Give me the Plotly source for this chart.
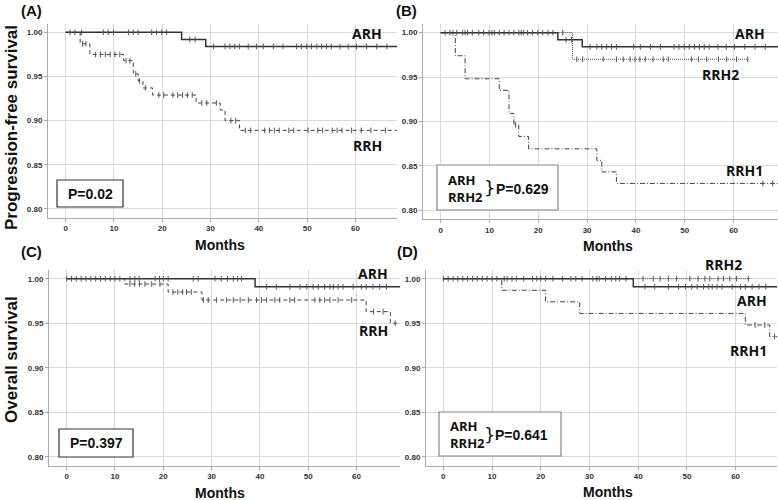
import plotly.graph_objects as go

W, H = 778, 500

# ---------------- data ----------------
# Panel A (PFS, ARH vs RRH)
A_ARH_times = [0, 24, 29]
A_ARH_surv = [1.0, 0.992, 0.984]
A_ARH_end = 68.6
A_ARH_cens = [0.9, 1.9, 3.3, 7.8, 8.8, 9.9, 13, 14, 15, 17.8, 18.8, 19.9, 20.9, 25.7, 26.8,
              30.6, 33, 34, 35, 36, 37.8, 39.5, 40.9, 43, 45, 47.8, 48.8, 49.9, 50.9, 52, 53,
              54, 55, 56.8, 58.5, 60.2, 62.3, 64.4, 66.5]
A_RRH_times = [0, 3, 5, 12, 14, 15, 16, 18, 27, 32, 33, 36]
A_RRH_surv = [1.0, 0.987, 0.975, 0.968, 0.953, 0.945, 0.937, 0.929, 0.920, 0.912, 0.900, 0.889]
A_RRH_end = 68.6
A_RRH_cens = [3.5, 4.2, 6.2, 7.2, 8.2, 9.2, 10.2, 11.2, 12.5, 13.3, 14.5, 15.3, 16.5, 19.3,
              20.3, 22.2, 23.2, 24.2, 25.2, 26.2, 28.2, 29.2, 31.2, 34.2, 35.2, 37.2, 38.3,
              41.2, 42.2, 43.2, 44.2, 46.2, 47.2, 50.2, 52.2, 53.2, 55.2, 56.2, 57.2, 59.2,
              61.2, 63.2, 66.2]

# Panel B (PFS, ARH vs RRH1 vs RRH2)
B_ARH_times = [0, 24, 29]
B_ARH_surv = [1.0, 0.992, 0.984]
B_ARH_end = 69.1
B_ARH_cens = [0.9, 1.9, 3.3, 4.5, 5.5, 6.5, 7.8, 8.8, 9.9, 11, 12, 13, 14, 15, 16, 17, 17.8,
              18.8, 19.9, 20.9, 22, 25.7, 26.8, 30.6, 32, 33, 34, 35, 36, 39.5, 40.9, 43, 45,
              47.8, 48.8, 49.9, 50.9, 52, 53, 54, 55, 56.8, 58.5, 60.2, 62.3, 64.4, 66.5]
B_RRH2_times = [0, 27]
B_RRH2_surv = [1.0, 0.970]
B_RRH2_end = 63
B_RRH2_cens = [2.5, 5, 10.5, 16.5, 23, 25, 27.9, 29.1, 33.3, 36, 37.4, 38.8, 39.8, 40.8, 41.9,
               43.5, 45.6, 46.6, 51.4, 52.8, 54.5, 56.9, 58.6, 60.6, 62.9]
B_RRH1_times = [0, 3, 5, 12, 14, 15, 16, 18, 32, 33, 36]
B_RRH1_surv = [1.0, 0.974, 0.948, 0.935, 0.909, 0.896, 0.883, 0.869, 0.856, 0.843, 0.830]
B_RRH1_end = 69.1
B_RRH1_cens = [15.3, 66, 68]

# Panel C (OS, ARH vs RRH)
C_ARH_times = [0, 39]
C_ARH_surv = [1.0, 0.991]
C_ARH_end = 69.0
C_ARH_cens = [0, 1, 2, 3, 4, 5, 6, 7, 8, 9, 10, 11, 13.1, 14.1, 15, 18.3, 19.2, 20, 21, 26.2,
              27.2, 30.7, 32, 33.3, 34.5, 35.4, 36.2, 41.4, 43.4, 46.2, 48.3, 49.7, 51, 52.1,
              53.4, 54.5, 55.2, 56.2, 57.2, 59.3, 61, 62, 63.4, 64.8, 66.2]
C_RRH_times = [0, 12, 21, 28, 62, 67]
C_RRH_surv = [1.0, 0.994, 0.985, 0.976, 0.963, 0.950]
C_RRH_end = 69.0
C_RRH_cens = [13.1, 14.1, 15.1, 16.2, 17.6, 19.3, 22, 23, 24, 24.8, 25.8, 28.3, 29.3, 31,
              33.1, 34.5, 35.9, 37.6, 39.3, 40.3, 41.4, 43.1, 44.1, 46.2, 47.2, 51.4, 52.4,
              53.4, 54.5, 56.2, 59, 63.5, 65.5, 68]

# Panel D (OS, ARH vs RRH1 vs RRH2)
D_ARH_times = [0, 39]
D_ARH_surv = [1.0, 0.991]
D_ARH_end = 68.5
D_ARH_cens = C_ARH_cens
D_RRH2_times = [0]
D_RRH2_surv = [1.0]
D_RRH2_end = 63
D_RRH2_cens = [12.5, 16.5, 22.5, 24.5, 28.5, 31.5, 37.5, 41, 43.1, 44.5, 46.2, 47.9, 50.6,
               52.3, 53.7, 54.7, 56.4, 57.5, 58.8, 60.2, 62.6]
D_RRH1_times = [0, 12, 21, 28, 62, 67]
D_RRH1_surv = [1.0, 0.987, 0.974, 0.961, 0.948, 0.935]
D_RRH1_end = 68.5
D_RRH1_cens = [64, 66, 68]

x_ticks = [0, 10, 20, 30, 40, 50, 60]
y_ticks = [0.80, 0.85, 0.90, 0.95, 1.00]
y_tick_text = ["0.80", "0.85", "0.90", "0.95", "1.00"]

# ---------------- helpers ----------------
def px(x, y):
    return x / W, 1 - y / H


def surv_at(times, surv, t):
    s = surv[0]
    for ti, si in zip(times, surv):
        if ti <= t:
            s = si
    return s


fig = go.Figure()

# panel domains in pixels (left, right, top, bottom) and x ranges
panels = {
    "A": dict(ax="", dom=(48, 397, 23.5, 217.8), xr=(-3.66, 68.6)),
    "B": dict(ax="2", dom=(423, 778, 23.8, 218.9), xr=(-3.62, 69.1)),
    "C": dict(ax="3", dom=(49, 400, 269.8, 465.6), xr=(-3.66, 69.0)),
    "D": dict(ax="4", dom=(426, 777, 269.8, 465.6), xr=(-3.55, 68.5)),
}

def add_curve(panel, times, surv, end, cens, dash, width, color):
    ax = panels[panel]["ax"]
    xs = list(times) + [end]
    ys = list(surv) + [surv[-1]]
    fig.add_trace(go.Scatter(x=xs, y=ys, mode="lines", line=dict(shape="hv", dash=dash,
                  width=width, color=color), xaxis="x" + ax, yaxis="y" + ax,
                  showlegend=False, hoverinfo="skip"))
    cy = [surv_at(times, surv, t) for t in cens]
    fig.add_trace(go.Scatter(x=cens, y=cy, mode="markers",
                  marker=dict(symbol="line-ns", size=4, line=dict(width=1, color="#555")),
                  xaxis="x" + ax, yaxis="y" + ax, showlegend=False, hoverinfo="skip"))

DASH = "4px,3px"
DASHDOT = "5px,2px,1px,2px"
DOT = "1px,1px"

add_curve("A", A_RRH_times, A_RRH_surv, A_RRH_end, A_RRH_cens, DASH, 1, "#444")
add_curve("A", A_ARH_times, A_ARH_surv, A_ARH_end, A_ARH_cens, "solid", 1.5, "#333")

add_curve("B", B_RRH1_times, B_RRH1_surv, B_RRH1_end, B_RRH1_cens, DASHDOT, 1, "#444")
add_curve("B", B_RRH2_times, B_RRH2_surv, B_RRH2_end, B_RRH2_cens, DOT, 1, "#444")
add_curve("B", B_ARH_times, B_ARH_surv, B_ARH_end, B_ARH_cens, "solid", 1.5, "#333")

add_curve("C", C_RRH_times, C_RRH_surv, C_RRH_end, C_RRH_cens, DASH, 1, "#444")
add_curve("C", C_ARH_times, C_ARH_surv, C_ARH_end, C_ARH_cens, "solid", 1.5, "#333")

add_curve("D", D_RRH1_times, D_RRH1_surv, D_RRH1_end, D_RRH1_cens, DASHDOT, 1, "#444")
add_curve("D", D_RRH2_times, D_RRH2_surv, D_RRH2_end, D_RRH2_cens, DOT, 1, "#444")
add_curve("D", D_ARH_times, D_ARH_surv, D_ARH_end, D_ARH_cens, "solid", 1.5, "#333")

tickfont = dict(family="Liberation Sans, Arial", size=8, color="#333", weight="bold")
layout = dict(width=W, height=H, margin=dict(l=0, r=0, t=0, b=0),
              paper_bgcolor="white", plot_bgcolor="white", showlegend=False)
for key, p in panels.items():
    l, r, t, b = p["dom"]
    ax = p["ax"]
    xname = "xaxis" + ax
    yname = "yaxis" + ax
    layout[xname] = dict(domain=[l / W, r / W], range=list(p["xr"]), tickvals=x_ticks,
                         showgrid=True, gridcolor="#dadada", gridwidth=1, zeroline=False,
                         showline=True, linecolor="#aaa", linewidth=1, ticks="outside",
                         ticklen=3, tickcolor="#aaa", tickfont=tickfont,
                         anchor="y" + ax)
    layout[yname] = dict(domain=[1 - b / H, 1 - t / H], range=[0.79, 1.01], tickvals=y_ticks,
                         ticktext=y_tick_text, showgrid=True, gridcolor="#dadada", gridwidth=1,
                         zeroline=False, showline=True, linecolor="#aaa", linewidth=1,
                         ticks="outside", ticklen=3, tickcolor="#aaa", tickfont=tickfont,
                         anchor="x" + ax)
fig.update_layout(**layout)

annots = []
shapes = []

def txt(x, y, s, size=14, family="Open Sans", weight="bold", angle=0, xanchor="center",
        align="center"):
    xp, yp = px(x, y)
    annots.append(dict(x=xp, y=yp, xref="paper", yref="paper", text=s, showarrow=False,
                       xanchor=xanchor, yanchor="middle", textangle=angle, align=align,
                       font=dict(family=family, size=size, color="#111", weight=weight)))

def box(x0, y0, x1, y1, color):
    a0, b0 = px(x0, y0)
    a1, b1 = px(x1, y1)
    shapes.append(dict(type="rect", xref="paper", yref="paper", x0=a0, x1=a1, y0=b1, y1=b0,
                       line=dict(color=color, width=1.2), fillcolor="white", layer="above"))

ARIAL = "Liberation Sans, Arial"

# panel letters
txt(32, 10, "(A)", 15, ARIAL)
txt(406, 10, "(B)", 15, ARIAL)
txt(32, 251, "(C)", 15, ARIAL)
txt(407, 251, "(D)", 15, ARIAL)

# axis titles
txt(220, 245, "Months", 14, ARIAL)
txt(608, 246, "Months", 14, ARIAL)
txt(220, 493, "Months", 14, ARIAL)
txt(608, 492, "Months", 14, ARIAL)
txt(11, 128, "Progression-free survival", 17, ARIAL, angle=-90)
txt(11, 360, "Overall survival", 17, ARIAL, angle=-90)

# curve labels
txt(367, 33, "ARH")
txt(367, 145, "RRH")
txt(750, 33, "ARH")
txt(720, 74, "RRH2")
txt(744, 170, "RRH1")
txt(373, 273, "ARH")
txt(373, 330, "RRH")
txt(723, 264, "RRH2")
txt(752, 300, "ARH")
txt(748, 350, "RRH1")

# p-value boxes
box(57, 180, 123, 207, "#333")
txt(90, 194, "P=0.02", 14, ARIAL)
box(59, 429, 133, 457, "#333")
txt(96, 443, "P=0.397", 14, ARIAL)

box(437, 165, 558, 210, "#888")
txt(446, 188, "ARH<br>RRH2", 13, xanchor="left", align="left")
txt(489, 187, "}", 18, "DejaVu Sans", weight="normal")
txt(494, 189, "P=0.629", 14, ARIAL, xanchor="left")

box(439, 412, 561, 456, "#888")
txt(448, 434, "ARH<br>RRH2", 13, xanchor="left", align="left")
txt(489, 434, "}", 18, "DejaVu Sans", weight="normal")
txt(493, 435, "P=0.641", 14, ARIAL, xanchor="left")

fig.update_layout(annotations=annots, shapes=shapes)
fig.write_html("out.html", config={"displayModeBar": False},
               post_script="document.body.style.margin='0';document.body.style.overflow='hidden';")
